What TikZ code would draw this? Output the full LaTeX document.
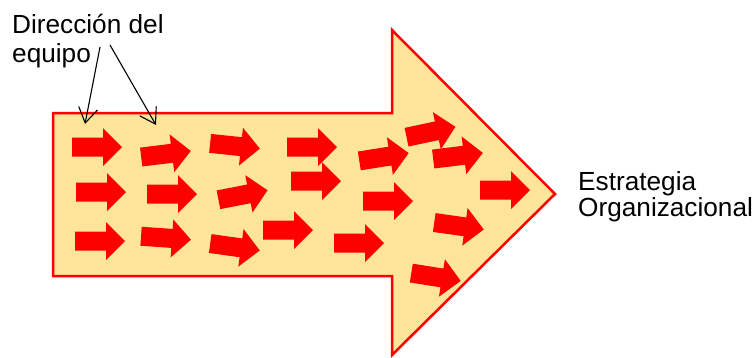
\documentclass[tikz,border=0pt]{standalone}
\usepackage{fontspec}
\setmainfont{Liberation Sans}
\usetikzlibrary{arrows.meta}
\definecolor{bigfill}{RGB}{255,229,153}
\definecolor{rred}{RGB}{255,0,0}
\tikzset{
  x=1pt,y=-1pt,
  bigarrow/.style={draw=rred,line width=2.5pt,fill=bigfill,line join=miter},
  lbl/.style={font=\fontsize{26.2}{29}\selectfont,inner sep=0pt,anchor=base west},
  pointer/.style={line width=1.1pt,-{Straight Barb[length=15pt,width=19pt,line width=1.1pt]}},
  rarrow/.pic={\fill[rred] (-25,-9.5) -- (6,-9.5) -- (6,-19) -- (25,0) -- (6,19) -- (6,9.5) -- (-25,9.5) -- cycle;}
}
\begin{document}
\begin{tikzpicture}
\useasboundingbox (0,0) rectangle (756,357);
\draw[bigarrow] (53,113) -- (392,113) -- (392,30) -- (555,194) -- (392,355) -- (392,276) -- (53,276) -- cycle;
% small arrows
\pic[rotate=0]   at (97,147)  {rarrow};
\pic[rotate=7]   at (166,154) {rarrow};
\pic[rotate=-6]  at (235,146) {rarrow};
\pic[rotate=0]   at (101,192) {rarrow};
\pic[rotate=0]   at (172,194) {rarrow};
\pic[rotate=11]  at (243,195) {rarrow};
\pic[rotate=0]   at (100,241) {rarrow};
\pic[rotate=-4]  at (166,238) {rarrow};
\pic[rotate=-8]  at (235,247) {rarrow};
\pic[rotate=0]   at (312,147) {rarrow};
\pic[rotate=0]   at (316,181) {rarrow};
\pic[rotate=0]   at (288,230) {rarrow};
\pic[rotate=0]   at (359,243) {rarrow};
\pic[rotate=9]   at (384,157) {rarrow};
\pic[rotate=0]   at (388,201) {rarrow};
\pic[rotate=12]  at (431,132) {rarrow};
\pic[rotate=7]   at (458,156) {rarrow};
\pic[rotate=0]   at (505,190) {rarrow};
\pic[rotate=-8]  at (459,226) {rarrow};
\pic[rotate=-9]  at (436,277) {rarrow};
% labels
\node[lbl] (dir1) at (12,33) {Dirección del};
\node[lbl] (dir2) at (12,62) {equipo};
\node[lbl] (est1) at (578,190) {Estrategia};
\node[lbl] (est2) at (578,216) {Organizacional};
% pointers
\coordinate (p1s) at (100,47);
\coordinate (p2s) at (110,45);
\coordinate (p1e) at (85,124);
\coordinate (p2e) at (156,125);
\draw[pointer] (p1s) -- (p1e);
\draw[pointer] (p2s) -- (p2e);
\end{tikzpicture}
\end{document}
